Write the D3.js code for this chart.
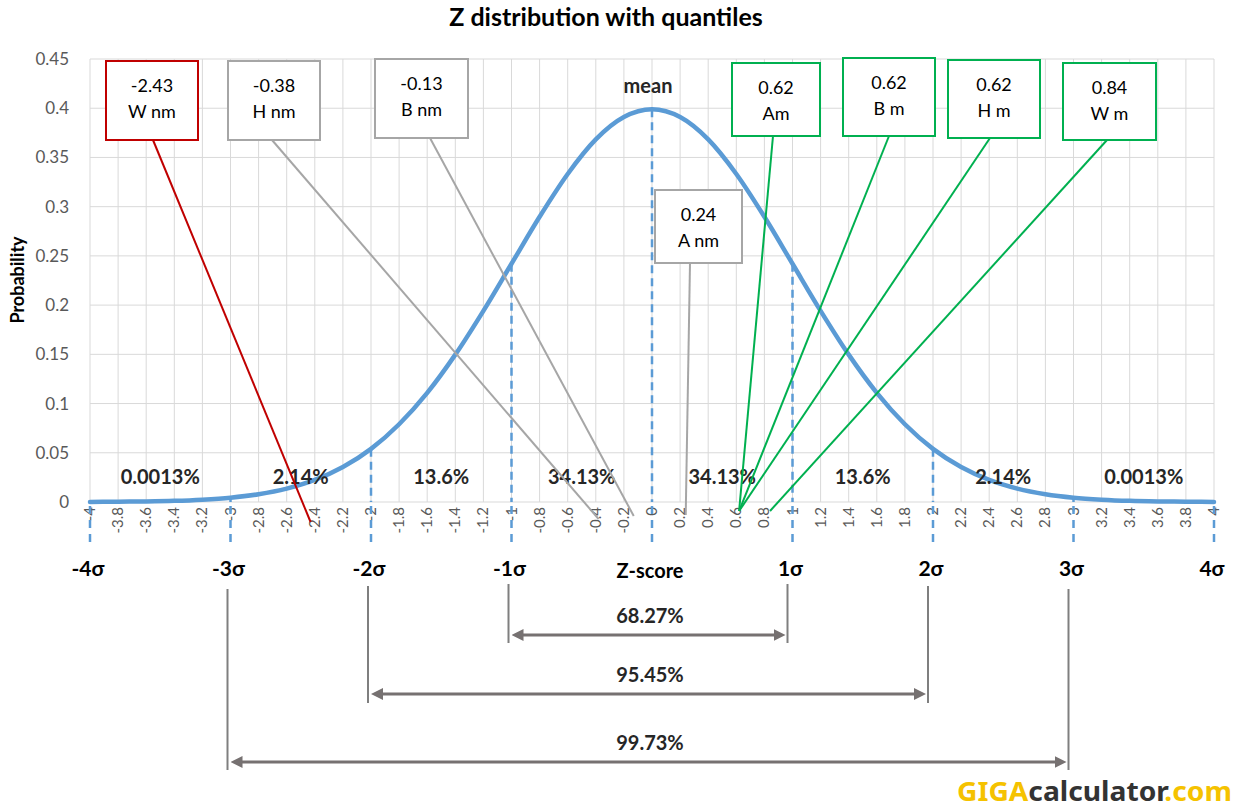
<!DOCTYPE html>
<html>
<head>
<meta charset="utf-8">
<script src="https://cdn.jsdelivr.net/npm/d3@7"></script>
<style>
  body { margin: 0; background: #fff; }
  svg { display: block; font-family: Lato, "Open Sans", sans-serif; }
</style>
</head>
<body>
<div id="chart"></div>
<script>
// values
const zValues = [-4, -3.8, -3.6, -3.4, -3.2, -3, -2.8, -2.6, -2.4, -2.2, -2, -1.8, -1.6, -1.4, -1.2, -1,
  -0.8, -0.6, -0.4, -0.2, 0, 0.2, 0.4, 0.6, 0.8, 1, 1.2, 1.4, 1.6, 1.8, 2, 2.2, 2.4, 2.6, 2.8, 3,
  3.2, 3.4, 3.6, 3.8, 4];
const probValues = [0.0001, 0.0003, 0.0006, 0.0012, 0.0024, 0.0044, 0.0079, 0.0136, 0.0224, 0.0355, 0.0540,
  0.0790, 0.1109, 0.1497, 0.1942, 0.2420, 0.2897, 0.3332, 0.3683, 0.3910, 0.3989, 0.3910, 0.3683,
  0.3332, 0.2897, 0.2420, 0.1942, 0.1497, 0.1109, 0.0790, 0.0540, 0.0355, 0.0224, 0.0136, 0.0079,
  0.0044, 0.0024, 0.0012, 0.0006, 0.0003, 0.0001];
const yTicks = [0, 0.05, 0.1, 0.15, 0.2, 0.25, 0.3, 0.35, 0.4, 0.45];
const sigmas = [-4, -3, -2, -1, 0, 1, 2, 3, 4];
const sigmaLabels = ["-4σ", "-3σ", "-2σ", "-1σ", "", "1σ", "2σ", "3σ", "4σ"];
const bandMids = [-3.5, -2.5, -1.5, -0.5, 0.5, 1.5, 2.5, 3.5];
const bandLabels = ["0.0013%", "2.14%", "13.6%", "34.13%", "34.13%", "13.6%", "2.14%", "0.0013%"];
const rangeSigmas = [1, 2, 3];
const rangeLabels = ["68.27%", "95.45%", "99.73%"];
const quantileValues = [-2.43, -0.38, -0.13, 0.24, 0.62, 0.62, 0.62, 0.84];
const quantileNames = ["W nm", "H nm", "B nm", "A nm", "Am", "B m", "H m", "W m"];
const quantileValueText = ["-2.43", "-0.38", "-0.13", "0.24", "0.62", "0.62", "0.62", "0.84"];

// callout box layout (pixels) and colours
const boxes = [
  { x0: 106, x1: 198, y0: 61, y1: 140, sx: 153, ey: 522, c: "#c00000" },
  { x0: 228, x1: 320, y0: 61, y1: 140, sx: 272, ey: 519, c: "#a6a6a6" },
  { x0: 375, x1: 468, y0: 59, y1: 138, sx: 430, ey: 516, c: "#a6a6a6" },
  { x0: 655, x1: 742, y0: 190, y1: 263, sx: 690, ey: 515, c: "#a6a6a6" },
  { x0: 732, x1: 820, y0: 63, y1: 136, sx: 773, ey: 511, c: "#00b050" },
  { x0: 843, x1: 935, y0: 58, y1: 136, sx: 889, ey: 511, c: "#00b050" },
  { x0: 948, x1: 1040, y0: 60, y1: 138, sx: 990, ey: 511, c: "#00b050" },
  { x0: 1063, x1: 1156, y0: 63, y1: 140, sx: 1107, ey: 511, c: "#00b050" }
];

const width = 1241, height = 810;
const blue = "#5b9bd5", grey = "#7f7f7f";

const svg = d3.select("#chart").append("svg")
  .attr("width", width).attr("height", height);

const x = d3.scaleLinear().domain([-4, 4]).range([90, 1214]);
const y = d3.scaleLinear().domain([0, 0.45]).range([502, 59]);
const pdf = z => probValues[zValues.findIndex(v => Math.abs(v - z) < 1e-9)];

// grid
svg.append("g")
  .selectAll("line.h")
  .data(yTicks)
  .join("line")
  .attr("x1", x(-4)).attr("x2", x(4))
  .attr("y1", d => y(d)).attr("y2", d => y(d))
  .attr("stroke", "#d9d9d9");

svg.append("g")
  .selectAll("line.v")
  .data(zValues)
  .join("line")
  .attr("x1", d => x(d)).attr("x2", d => x(d))
  .attr("y1", y(0.45)).attr("y2", y(0))
  .attr("stroke", "#d9d9d9");

// y axis labels
svg.append("g")
  .attr("transform", `translate(${x(-4) - 18},0)`)
  .call(d3.axisLeft(y).tickValues(yTicks).tickSize(0).tickFormat(d => String(d)))
  .call(g => g.select(".domain").remove())
  .selectAll("text")
  .attr("fill", "#595959")
  .attr("font-size", 17)
  .attr("font-family", "Lato, sans-serif");

svg.append("text")
  .attr("transform", `translate(24,280) rotate(-90)`)
  .attr("text-anchor", "middle")
  .attr("font-weight", "bold")
  .attr("font-size", 18)
  .text("Probability");

// x tick labels, rotated
svg.append("g")
  .selectAll("text")
  .data(zValues)
  .join("text")
  .attr("transform", d => `translate(${x(d) + 5},507) rotate(-90)`)
  .attr("text-anchor", "end")
  .attr("fill", "#595959")
  .attr("font-size", 15)
  .text(d => String(d));

// title
svg.append("text")
  .attr("x", 606).attr("y", 26)
  .attr("text-anchor", "middle")
  .attr("font-weight", "bold")
  .attr("font-size", 25)
  .text("Z distribution with quantiles");

// dashed sigma lines inside the plot
svg.append("g")
  .selectAll("line")
  .data(sigmas.filter(s => Math.abs(s) < 4))
  .join("line")
  .attr("x1", d => x(d)).attr("x2", d => x(d))
  .attr("y1", d => y(pdf(d))).attr("y2", y(0))
  .attr("stroke", blue)
  .attr("stroke-width", 2.5)
  .attr("stroke-dasharray", "8,5");

// dashed sigma lines below the axis
svg.append("g")
  .selectAll("line")
  .data(sigmas)
  .join("line")
  .attr("x1", d => x(d)).attr("x2", d => x(d))
  .attr("y1", y(0) + 4).attr("y2", 548)
  .attr("stroke", blue)
  .attr("stroke-width", 2.5)
  .attr("stroke-dasharray", "8,6");

// curve
const line = d3.line()
  .x((d, i) => x(zValues[i]))
  .y(d => y(d))
  .curve(d3.curveMonotoneX);

svg.append("path")
  .datum(probValues)
  .attr("d", line)
  .attr("fill", "none")
  .attr("stroke", blue)
  .attr("stroke-width", 4.5)
  .attr("stroke-linecap", "round");

// mean label
svg.append("text")
  .attr("x", x(0) - 4).attr("y", 93)
  .attr("text-anchor", "middle")
  .attr("font-weight", "bold")
  .attr("font-size", 20)
  .attr("fill", "#262626")
  .text("mean");

// band percentages
svg.append("g")
  .selectAll("text")
  .data(bandMids)
  .join("text")
  .attr("x", d => x(d)).attr("y", 484)
  .attr("text-anchor", "middle")
  .attr("font-weight", "bold")
  .attr("font-size", 20)
  .attr("fill", "#262626")
  .text((d, i) => bandLabels[i]);

// sigma labels
svg.append("g")
  .selectAll("text")
  .data(sigmas)
  .join("text")
  .attr("x", d => x(d) - 2).attr("y", 576)
  .attr("text-anchor", "middle")
  .attr("font-weight", "bold")
  .attr("font-size", 21)
  .text((d, i) => sigmaLabels[i]);

svg.append("text")
  .attr("x", x(0) - 2).attr("y", 578)
  .attr("text-anchor", "middle")
  .attr("font-weight", "bold")
  .attr("font-size", 20)
  .text("Z-score");

// callouts
const callouts = svg.append("g")
  .selectAll("g")
  .data(quantileValues)
  .join("g");

callouts.append("line")
  .attr("x1", (d, i) => boxes[i].sx).attr("y1", (d, i) => boxes[i].y1)
  .attr("x2", d => x(d)).attr("y2", (d, i) => boxes[i].ey)
  .attr("stroke", (d, i) => boxes[i].c)
  .attr("stroke-width", 2);

callouts.append("rect")
  .attr("x", (d, i) => boxes[i].x0).attr("y", (d, i) => boxes[i].y0)
  .attr("width", (d, i) => boxes[i].x1 - boxes[i].x0)
  .attr("height", (d, i) => boxes[i].y1 - boxes[i].y0)
  .attr("fill", "#fff")
  .attr("stroke", (d, i) => boxes[i].c)
  .attr("stroke-width", 2);

callouts.append("text")
  .attr("x", (d, i) => (boxes[i].x0 + boxes[i].x1) / 2)
  .attr("y", (d, i) => boxes[i].y0 + 31)
  .attr("text-anchor", "middle")
  .attr("font-size", 18)
  .text((d, i) => quantileValueText[i]);

callouts.append("text")
  .attr("x", (d, i) => (boxes[i].x0 + boxes[i].x1) / 2)
  .attr("y", (d, i) => boxes[i].y0 + 57)
  .attr("text-anchor", "middle")
  .attr("font-size", 18)
  .text((d, i) => quantileNames[i]);

// range brackets below the chart
const defs = svg.append("defs");
["start", "end"].forEach(k => {
  defs.append("marker")
    .attr("id", "arrow-" + k)
    .attr("viewBox", "0 0 10 10")
    .attr("refX", 5).attr("refY", 5)
    .attr("markerWidth", 4).attr("markerHeight", 4)
    .attr("orient", k === "start" ? "auto-start-reverse" : "auto")
    .append("path")
    .attr("d", "M0,0L10,5L0,10z")
    .attr("fill", "#767171");
});

const rangeTop = [584, 586, 589];
const rangeArrowY = [635, 694, 762];
const rangeBottom = [643, 703, 770];

const ranges = svg.append("g")
  .selectAll("g")
  .data(rangeSigmas)
  .join("g");

ranges.append("line")
  .attr("x1", d => x(-d) - 3).attr("x2", d => x(-d) - 3)
  .attr("y1", (d, i) => rangeTop[i]).attr("y2", (d, i) => rangeBottom[i])
  .attr("stroke", grey).attr("stroke-width", 2);

ranges.append("line")
  .attr("x1", d => x(d) - 5).attr("x2", d => x(d) - 5)
  .attr("y1", (d, i) => rangeTop[i]).attr("y2", (d, i) => rangeBottom[i])
  .attr("stroke", grey).attr("stroke-width", 2);

ranges.append("line")
  .attr("x1", d => x(-d) + 6).attr("x2", d => x(d) - 13)
  .attr("y1", (d, i) => rangeArrowY[i]).attr("y2", (d, i) => rangeArrowY[i])
  .attr("stroke", "#767171").attr("stroke-width", 3)
  .attr("marker-start", "url(#arrow-start)")
  .attr("marker-end", "url(#arrow-end)");

ranges.append("text")
  .attr("x", x(0) - 2).attr("y", (d, i) => rangeArrowY[i] - 12)
  .attr("text-anchor", "middle")
  .attr("font-weight", "bold")
  .attr("font-size", 20)
  .attr("fill", "#262626")
  .text((d, i) => rangeLabels[i]);

// logo
const logo = svg.append("text")
  .attr("x", 957).attr("y", 801)
  .attr("font-family", "'Noto Sans', sans-serif")
  .attr("font-weight", "bold")
  .attr("font-size", 26)
  .attr("textLength", 275)
  .attr("lengthAdjust", "spacingAndGlyphs");
logo.append("tspan").attr("fill", "#f5c200").text("GIGA");
logo.append("tspan").attr("fill", "#333333").text("calculator");
logo.append("tspan").attr("fill", "#f5c200").text(".com");
</script>
</body>
</html>
